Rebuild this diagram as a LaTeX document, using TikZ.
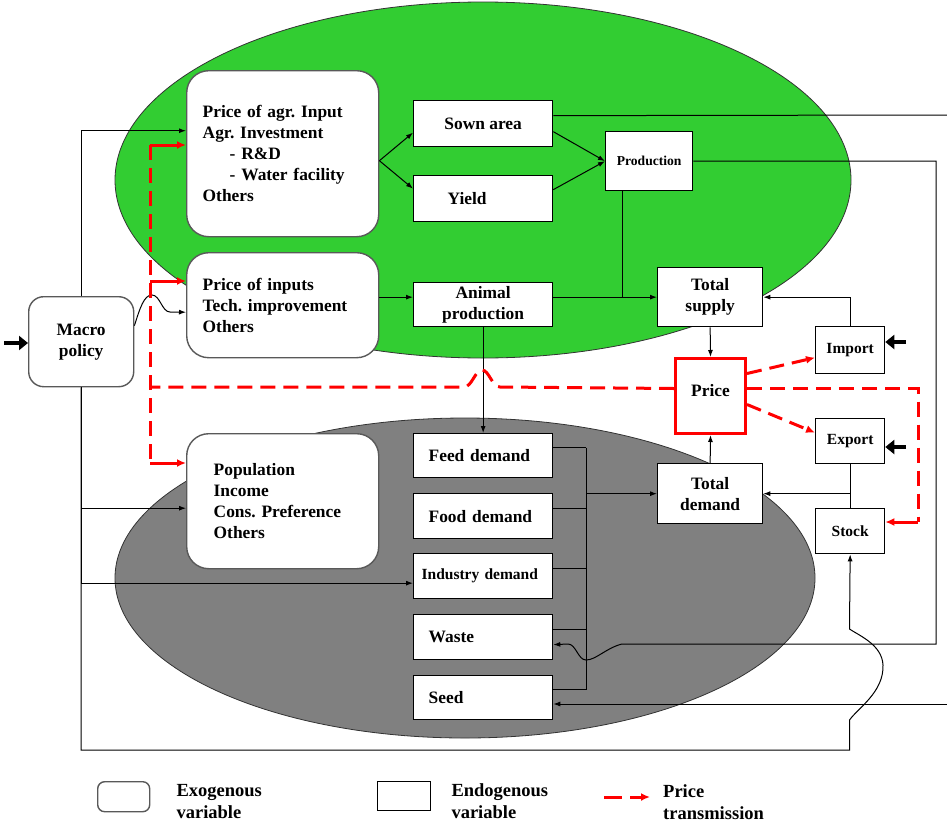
\documentclass[tikz,border=0pt]{standalone}
\usepackage{fontspec}
\setmainfont{Liberation Serif}
\usetikzlibrary{arrows.meta,positioning}
\frenchspacing

\definecolor{supplygreen}{RGB}{50,205,50}
\definecolor{demandgray}{RGB}{128,128,128}
\definecolor{pricered}{RGB}{255,0,0}

\tikzset{
  exobox/.style={draw=black!65, line width=1.4pt, rounded corners=22pt, fill=white,
    anchor=north west, align=left, inner ysep=1pt, font=\bfseries\fontsize{17.4}{21}\selectfont},
  endobox/.style={draw, line width=1.3pt, fill=white, anchor=north west, align=center,
    inner xsep=2pt, inner ysep=1pt, font=\bfseries\fontsize{17.4}{21}\selectfont},
  listbox/.style={endobox, align=left, inner xsep=15pt, text width=109pt},
  smallbox/.style={endobox, font=\bfseries\fontsize{15.5}{19}\selectfont},
  legendtext/.style={align=left, inner sep=0pt, font=\bfseries\fontsize{18.5}{22}\selectfont},
  link/.style={line width=1pt, -{Latex[length=7pt,width=5pt]}},
  plain/.style={line width=1pt},
  shock/.style={line width=3.5pt, -{Triangle[length=9pt,width=14pt]}},
  pricedash/.style={pricered, line width=3pt, dash pattern=on 15pt off 8pt},
  pricearrow/.style={pricedash, -{Latex[length=9pt,width=8pt]}},
  pricelink/.style={pricered, line width=3pt, -{Latex[length=9pt,width=8pt]}}
}

\begin{document}
\begin{tikzpicture}[x=1pt, y=-1pt]
  \useasboundingbox (0,0) rectangle (947,825);

  % supply and demand sides
  \filldraw[fill=supplygreen, draw=black!80, line width=0.8pt] (483,180) ellipse [x radius=368pt, y radius=178pt];
  \filldraw[fill=demandgray, draw=black!80, line width=0.8pt] (465,578) ellipse [x radius=350pt, y radius=160pt];

  % exogenous variables
  \node[exobox, minimum width=105pt, minimum height=90pt, rounded corners=15pt, align=center] (macro) at (28,296) {Macro\\policy};
  \node[exobox, minimum width=192pt, minimum height=166pt, inner xsep=16pt, text width=160pt] (agr) at (186,70)
    {Price of agr. Input\\Agr. Investment\\\hspace*{27pt}- R\&D\\\hspace*{27pt}- Water facility\\Others};
  \node[exobox, minimum width=192pt, minimum height=105pt, inner xsep=16pt, text width=160pt] (inputs) at (186,252)
    {Price of inputs\\Tech. improvement\\Others};
  \node[exobox, minimum width=192pt, minimum height=135pt, inner xsep=27pt, text width=138pt] (pop) at (186,433)
    {Population\\Income\\Cons. Preference\\Others};

  % endogenous variables
  \node[endobox, minimum width=139pt, minimum height=46pt] (sown) at (413,100) {Sown area};
  \node[endobox, minimum width=139pt, minimum height=46pt, align=left, inner xsep=34pt, text width=71pt] (yield) at (413,175) {Yield};
  \node[endobox, minimum width=87pt, minimum height=59pt, font=\bfseries\fontsize{13.6}{16}\selectfont] (production) at (605,131) {Production};
  \node[endobox, minimum width=139pt, minimum height=44pt] (animal) at (413,282) {Animal\\production};
  \node[endobox, minimum width=105pt, minimum height=59pt] (supply) at (657,267) {Total\\supply};
  \node[endobox, draw=pricered, line width=3pt, minimum width=70pt, minimum height=75pt, text depth=12pt] (price) at (674,357) {Price};
  \node[smallbox, minimum width=69pt, minimum height=47pt] (import) at (815,326) {Import};
  \node[smallbox, minimum width=69pt, minimum height=45pt] (export) at (815,418) {Export};
  \node[smallbox, minimum width=69pt, minimum height=45pt] (stock) at (815,508) {Stock};
  \node[endobox, minimum width=105pt, minimum height=60pt] (demand) at (657,463) {Total\\demand};
  \node[listbox, minimum height=44pt] (feed) at (413,433) {Feed demand};
  \node[listbox, minimum height=45pt] (food) at (413,493) {Food demand};
  \node[listbox, minimum height=45pt, inner xsep=8pt, text width=123pt, font=\bfseries\fontsize{15.5}{19}\selectfont] (industry) at (413,553) {Industry demand};
  \node[listbox, minimum height=45pt] (waste) at (413,614) {Waste};
  \node[listbox, minimum height=44pt] (seed) at (413,675) {Seed};

  % outside shocks
  \coordinate (macroin) at (4,343);
  \coordinate (importin) at (906,342);
  \coordinate (exportin) at (906,447);
  \draw[shock] (macroin) -- (macro.west |- macroin);
  \draw[shock] (importin) -- (import.east |- importin);
  \draw[shock] (exportin) -- (export.east |- exportin);

  % macro policy links
  \draw[link] (macro.north) |- ([yshift=23pt]agr.west);
  \draw[link] ([yshift=16pt]macro.east) .. controls (140,308) and (144,295) .. (152,295)
    .. controls (160,295) and (162,312) .. (170,312) -- ([yshift=-7pt]inputs.west);
  \draw[link] (macro.south) |- ([yshift=-7pt]pop.west);
  \draw[link] (macro.south) |- ([yshift=-7pt]industry.west);
  \draw[link] (macro.south) |- (849.5,750) -- (849.5,720) .. controls (858,708) and (884,692) .. (883,665)
    .. controls (882,645) and (860,636) .. (849.5,629) -- (stock.south);

  % supply side
  \draw[link] ([yshift=-7pt]agr.east) -- ([yshift=-9pt]sown.west);
  \draw[link] ([yshift=-7pt]agr.east) -- ([yshift=10pt]yield.west);
  \draw[link] ([yshift=-8pt]sown.east) -- (production.west);
  \draw[link] ([yshift=9pt]yield.east) -- (production.west);
  \draw[link] (inputs.east |- supply.west) -- (animal.west |- supply.west);
  \draw[link] (animal.east |- supply.west) -- (supply.west);
  \coordinate (prodfoot) at ([xshift=-26.5pt]production.south);
  \draw[plain] (prodfoot) -- (prodfoot |- supply.west);
  \draw[link] (supply.south) -- (price.north);
  \draw[link] (import.north) |- (supply.east);

  % long feedback lines
  \coordinate (edgetop) at (947,115);
  \coordinate (edgebot) at (947,704);
  \draw[plain] ([yshift=8pt]sown.east) -- (edgetop);
  \draw[link] (edgebot) -- (seed.east |- edgebot);
  \draw[link] (production.east) -| (936,644) -- (622,644) .. controls (606,648) and (596,660) .. (586,660)
    .. controls (578,660) and (576,644) .. (568,644) -- ([yshift=-7.5pt]waste.east);

  % demand side
  \draw[link] (animal.south) -- (feed.north);
  \foreach \demandbox in {feed,food,industry,waste,seed}
    \draw[plain] ([yshift=8pt]\demandbox.east) -- ++(33,0);
  \coordinate (hub) at ([xshift=33pt,yshift=8pt]feed.east);
  \coordinate (hubend) at ([xshift=33pt,yshift=8pt]seed.east);
  \draw[plain] (hub) -- (hubend);
  \draw[link] (hub |- demand.west) -- (demand.west);
  \draw[link] (demand.north) -- (price.south);
  \draw[plain] (export.south) -- (stock.north);
  \draw[link] (export.south |- demand.east) -- (demand.east);

  % price transmission
  \coordinate (rtop) at (150,145);
  \coordinate (rmid) at (150,281);
  \coordinate (rjoin) at (150,387);
  \coordinate (rlow) at (150,463);
  \coordinate (rright) at (918,522);
  \draw[pricedash] (rtop) -- (rlow);
  \draw[pricedash] ([yshift=7.5pt]price.west) -- (500,387) .. controls (492,387) and (489,370) .. (482,370)
    .. controls (475,370) and (472,387) .. (464,387) -- (rjoin);
  \draw[pricedash] ([yshift=7.5pt]price.east) -| (rright);
  \draw[pricelink] (rright) -- (stock.east |- rright);
  \draw[pricelink] (rtop) -- (agr.west |- rtop);
  \draw[pricelink] (rmid) -- (inputs.west |- rmid);
  \draw[pricelink] (rlow) -- (pop.west |- rlow);
  \draw[pricearrow] ([yshift=22.5pt]price.east) -- ([yshift=-7.5pt]import.west);
  \draw[pricearrow] ([yshift=-8.5pt]price.east) -- ([yshift=8.5pt]export.west);

  % legend
  \node[exobox, minimum width=52pt, minimum height=30pt, rounded corners=7pt] (legexo) at (97,781) {};
  \node[legendtext, right=26pt of legexo, yshift=-5pt] (legexotext) {Exogenous\\variable};
  \node[endobox, minimum width=53pt, minimum height=29pt] (legendo) at (377,781) {};
  \node[legendtext, right=20pt of legendo, yshift=-5pt] (legendotext) {Endogenous\\variable};
  \coordinate (legA) at (604,797);
  \coordinate (legB) at (650,797);
  \draw[pricearrow, dash pattern=on 18pt off 8pt] (legA) -- (legB);
  \node[legendtext, right=13pt of legB, yshift=-5pt] (legpricetext) {Price\\transmission};
\end{tikzpicture}
\end{document}
